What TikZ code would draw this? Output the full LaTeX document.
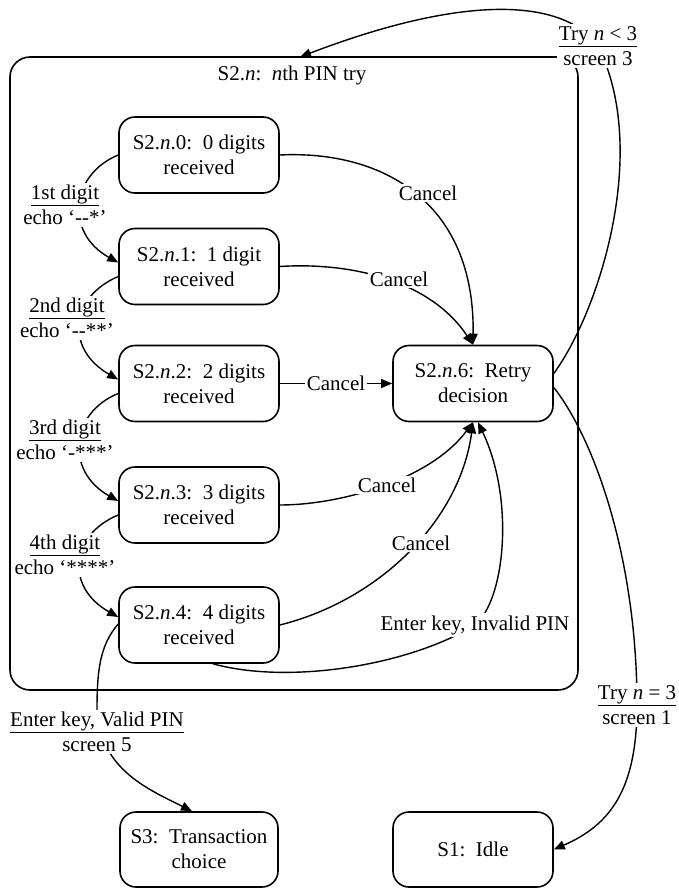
\documentclass[tikz,border=0pt]{standalone}
\usepackage{fontspec}
\setmainfont{Liberation Serif}
\usetikzlibrary{arrows.meta,calc}
\pgfdeclarelayer{bg}
\pgfsetlayers{bg,main}
\begin{document}
\begin{tikzpicture}[x=1pt,y=-1pt,
  font=\fontsize{21}{25}\selectfont,
  state/.style={draw, line width=1.6pt, rounded corners=16pt, minimum width=160pt, minimum height=76pt, align=center, inner sep=2pt},
  lbl/.style={fill=white, align=center, inner sep=2pt},
  conn/.style={line width=1.4pt},
  arr/.style={conn, -{Triangle[length=11pt,width=9pt]}}]
\useasboundingbox (0,0) rectangle (679,889);

% outer composite state
\node[draw, line width=1.6pt, rounded corners=20pt, minimum width=568pt, minimum height=633pt] (outer) at (294,373.5) {};
\node (title) at (292,75) {S2.\textit{n}:\ \ \textit{n}th PIN try};
\coordinate (topin) at (300,57);

% states
\node[state] (s0) at (199,155) {S2.\textit{n}.0:\ \ 0 digits\\received};
\node[state] (s1) at (199,266.5) {S2.\textit{n}.1:\ \ 1 digit\\received};
\node[state] (s2) at (199,383.5) {S2.\textit{n}.2:\ \ 2 digits\\received};
\node[state] (s3) at (199,505) {S2.\textit{n}.3:\ \ 3 digits\\received};
\node[state] (s4) at (199,625) {S2.\textit{n}.4:\ \ 4 digits\\received};
\node[state] (s6) at (473,383.5) {S2.\textit{n}.6:\ \ Retry\\decision};
\node[state, minimum width=158pt, minimum height=75pt] (s3t) at (199,849.5) {S3:\ \ Transaction\\choice};
\node[state, minimum height=75pt] (s1i) at (473,849.5) {S1:\ \ Idle};

% labels
\node[lbl] (d1) at (65,205) {\underline{1st digit}\\echo ‘\mbox{-}\mbox{-}*’};
\node[lbl] (d2) at (67,318) {\underline{2nd digit}\\echo ‘\mbox{-}\mbox{-}**’};
\node[lbl] (d3) at (65,440) {\underline{3rd digit}\\echo ‘\mbox{-}***’};
\node[lbl] (d4) at (65,555) {\underline{4th digit}\\echo ‘****’};
\node[lbl] (c1) at (428,193) {Cancel};
\node[lbl] (c2) at (399,279) {Cancel};
\node[lbl] (c4) at (387,485) {Cancel};
\node[lbl] (c5) at (421,543) {Cancel};
\node[lbl] (inv) at (475,625) {Enter key, Invalid PIN};
\node[lbl] (tlt) at (598,46) {\underline{Try \textit{n} < 3}\\screen 3};
\node[lbl] (teq) at (637,705) {\underline{Try \textit{n} = 3}\\screen 1};
\node[lbl] (val) at (97,732) {\underline{Enter key, Valid PIN}\\screen 5};

\begin{pgfonlayer}{bg}
% digit transitions
\draw[arr] (s0.west) .. controls (70,175) and (65,233) .. ($(s1.west)+(0,-4)$);
\draw[arr] ($(s1.west)+(0,10)$) .. controls (70,297) and (65,349) .. ($(s2.west)+(0,-4)$);
\draw[arr] ($(s2.west)+(0,10)$) .. controls (70,413) and (65,471) .. ($(s3.west)+(0,-4)$);
\draw[arr] ($(s3.west)+(0,10)$) .. controls (70,535) and (65,587) .. ($(s4.west)+(0,-8)$);
% cancel transitions
\draw[arr] (s0.east) .. controls (380,150) and (475,200) .. (s6.north);
\draw[arr] (s1.east) .. controls (350,262) and (430,280) .. (s6.north);
\draw[arr] (s2.east) -- (s6.west) node[lbl, midway] (c3) {Cancel};
\draw[arr] (s3.east) .. controls (340,505) and (430,480) .. (s6.south);
\draw[arr] (s4.east) .. controls (380,600) and (460,520) .. (s6.south);
% invalid PIN
\draw[arr] ($(s4.south)+(14,0)$) .. controls (290,685) and (410,665) .. (inv.center) .. controls (505,600) and (515,500) .. ($(s6.south)+(5,0)$);
% retry
\draw[arr] ($(s6.east)+(0,-10)$) .. controls (600,310) and (650,150) .. (tlt.center) .. controls (565,0) and (470,-8) .. (topin);
% give up
\draw[arr] ($(s6.east)+(0,4)$) .. controls (595,440) and (637,560) .. (teq.center) .. controls (637,790) and (610,825) .. (s1i.east);
% valid PIN
\draw[arr] ($(s4.west)+(0,-1)$) .. controls (100,645) and (97,670) .. (val.north) .. controls (100,770) and (150,790) .. ($(s3t.north)+(-7,0)$);
\end{pgfonlayer}
\end{tikzpicture}
\end{document}
